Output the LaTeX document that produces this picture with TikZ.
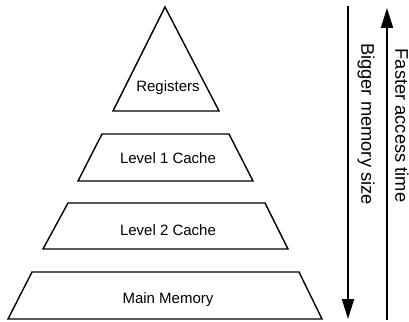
\documentclass[tikz,border=0pt]{standalone}
\usepackage{fontspec}
\setmainfont{Liberation Sans}
\usetikzlibrary{arrows.meta}
\begin{document}
\begin{tikzpicture}[x=1pt,y=-1pt,
  level/.style={draw=black,line width=1.4pt,line join=miter,fill=white},
  lbl/.style={font=\fontsize{15}{18}\selectfont,inner sep=0pt},
  side/.style={font=\fontsize{18.3}{22}\selectfont,inner sep=0pt,rotate=-90},
  bigarrow/.style={line width=2pt,-{Triangle[length=20pt,width=12pt]}}]
\useasboundingbox (0,0) rectangle (409,321);
% shapes
\draw[level] (165,7) -- (219,111) -- (113,111) -- cycle;
\draw[level] (102,134) -- (229,134) -- (253,181) -- (78,181) -- cycle;
\draw[level] (68,203) -- (265,203) -- (288,249) -- (43,249) -- cycle;
\draw[level] (32,272) -- (299,272) -- (322,319) -- (8,319) -- cycle;
% labels
\node[lbl] (reg) at (168,88) {Registers};
\node[lbl] (l1) at (168,158) {Level 1 Cache};
\node[lbl] (l2) at (168,230) {Level 2 Cache};
\node[lbl] (mm) at (168,300) {Main Memory};
% arrows
\coordinate (dtop) at (348,6);
\coordinate (dbot) at (348,319);
\coordinate (ubot) at (387,320);
\coordinate (utop) at (387,8);
\draw[bigarrow] (dtop) -- (dbot);
\draw[bigarrow] (ubot) -- (utop);
\node[side] (big) at (366,124) {Bigger memory size};
\node[side] (fast) at (402,125.5) {Faster access time};
\end{tikzpicture}
\end{document}
